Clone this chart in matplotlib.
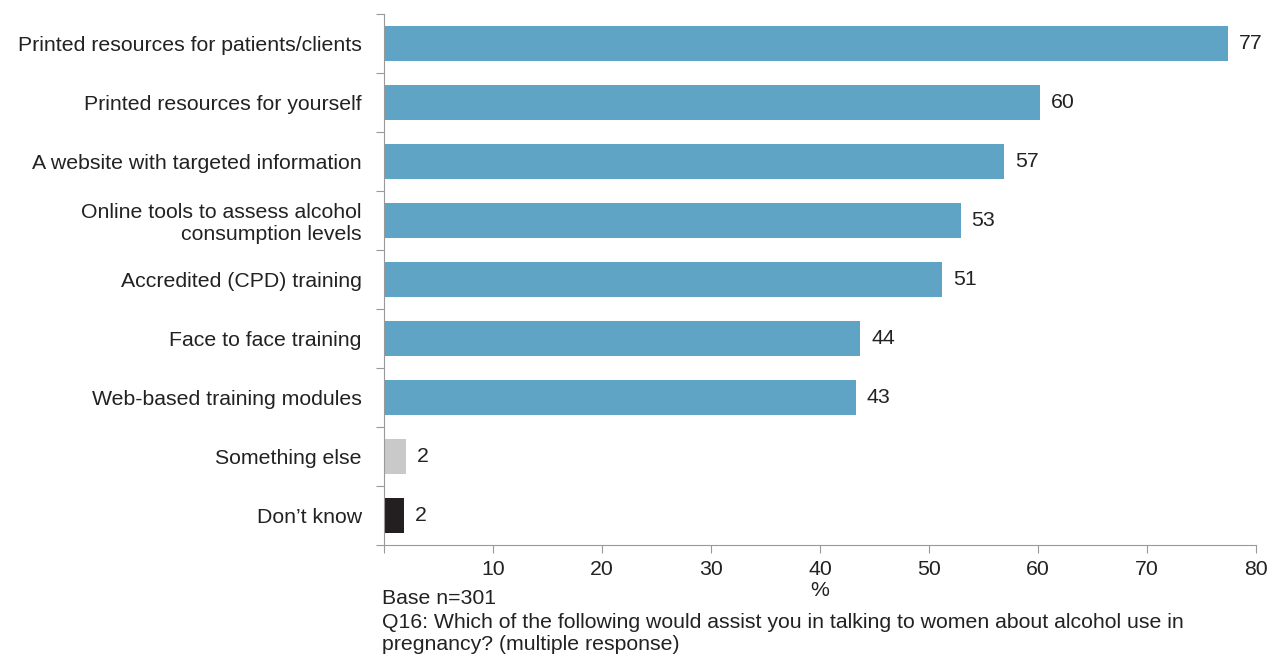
import matplotlib
matplotlib.use("Agg")
import matplotlib.pyplot as plt

categories = [
    "Printed resources for patients/clients",
    "Printed resources for yourself",
    "A website with targeted information",
    "Online tools to assess alcohol\nconsumption levels",
    "Accredited (CPD) training",
    "Face to face training",
    "Web-based training modules",
    "Something else",
    "Don\u2019t know",
]
values = [77.4, 60.2, 56.9, 52.9, 51.2, 43.7, 43.3, 2.0, 1.8]
labels = ["77", "60", "57", "53", "51", "44", "43", "2", "2"]
colors = ["#5FA4C5"] * 7 + ["#C9C9C9", "#231F20"]
xticks = [0, 10, 20, 30, 40, 50, 60, 70, 80]

FS = 15.3
plt.rcParams['font.family'] = ['Liberation Sans', 'DejaVu Sans']
fig = plt.figure(figsize=(12.7, 6.54), dpi=100)
ax = fig.add_axes([384/1270, 1-545/654, (1256-384)/1270, (545-14)/654])

ypos = list(range(len(categories)))
ax.barh(ypos, values, height=0.6, color=colors)
for y, v, t in zip(ypos, values, labels):
    ax.text(v + 1.0, y, t, va='center', ha='left', fontsize=FS, color='#222222')

ax.set_ylim(len(categories) - 0.5, -0.5)
ax.set_xlim(0, 80)
ax.set_yticks([i - 0.5 for i in range(len(categories) + 1)])
ax.set_yticklabels([])
ax.set_yticks(ypos, minor=True)
ax.set_yticklabels(categories, minor=True, fontsize=FS, color='#222222', ha='right',
                   linespacing=1.2)
ax.tick_params(axis='y', which='minor', length=0, pad=16)
ax.tick_params(axis='y', which='major', length=6, color='#999999', direction='out')
ax.set_xticks(xticks)
ax.set_xticklabels([""] + [str(x) for x in xticks[1:]], fontsize=FS, color='#222222')
ax.tick_params(axis='x', length=6, color='#999999', pad=5)

for s in ['top', 'right']:
    ax.spines[s].set_visible(False)
for s in ['left', 'bottom']:
    ax.spines[s].set_color('#999999')

fig.text(820/1270, 1-591/654, "%", ha='center', va='center', fontsize=FS, color='#222222')
fig.text(382/1270, 1-598/654, "Base n=301", ha='left', va='center', fontsize=FS, color='#222222')
fig.text(382/1270, 1-633/654,
         "Q16: Which of the following would assist you in talking to women about alcohol use in\npregnancy? (multiple response)",
         ha='left', va='center', fontsize=FS, color='#222222', linespacing=1.2)

fig.savefig("out.png", dpi=100)
